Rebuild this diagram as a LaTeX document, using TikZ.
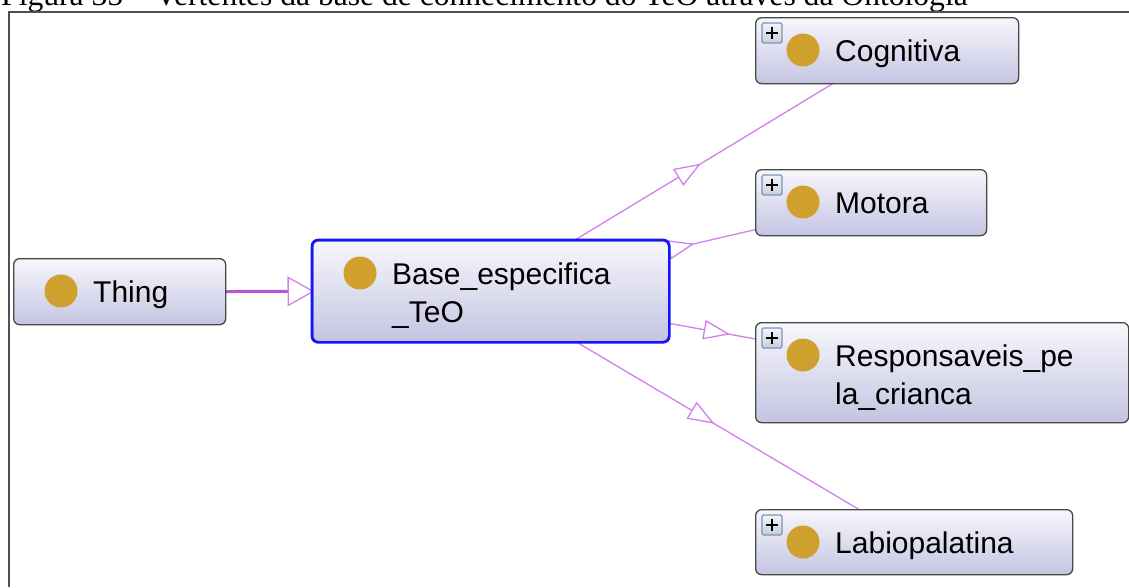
\documentclass[tikz,border=0pt]{standalone}
\usepackage{fontspec}
\setmainfont{Liberation Serif}
\newfontfamily\labelfont{Liberation Sans}
\usetikzlibrary{backgrounds,decorations.markings,calc}

\definecolor{boxtop}{RGB}{247,247,252}
\definecolor{boxbot}{RGB}{196,196,226}
\definecolor{boxborder}{RGB}{72,72,72}
\definecolor{selblue}{RGB}{20,20,255}
\definecolor{classdot}{RGB}{207,160,45}
\definecolor{isaline}{RGB}{208,128,238}
\definecolor{isathick}{RGB}{185,85,210}
\definecolor{framegray}{RGB}{80,80,80}
\definecolor{plusedge}{RGB}{120,150,185}
\definecolor{plustop}{RGB}{245,245,248}
\definecolor{plusbot}{RGB}{200,205,218}

\tikzset{
  clsbox/.style={rectangle, rounded corners=6pt, draw=boxborder, line width=1.3pt,
    top color=boxtop, bottom color=boxbot, inner sep=0pt, anchor=north west},
  dot/.style={circle, fill=classdot, minimum size=33pt, inner sep=0pt},
  lbl/.style={anchor=base west, inner sep=0pt,
    font=\labelfont\fontsize{30}{38}\selectfont, text=black},
  plusbox/.style={rectangle, draw=plusedge, line width=1.3pt, top color=plustop,
    bottom color=plusbot, minimum size=20pt, inner sep=0pt, rounded corners=1.5pt},
  plusmark/.style={line width=2.6pt, black},
  isa/.style={draw=isaline, line width=1.3pt},
  isahead/.style={isa, fill=white, line join=miter},
}

% one class box: name, x, y, width, height, first text line
\newcommand\owlclass[6]{%
  \node[clsbox, minimum width=#4pt, minimum height=#5pt] (#1) at (#2,#3) {};
  \node[dot] (#1-dot) at ($(#1.north west)+(48,33)$) {};
  \node[lbl] (#1-text) at ($(#1.north west)+(80,44)$) {#6};
}
% expand marker in the upper left corner of a box
\newcommand\expander[1]{%
  \node[plusbox] (#1-plus) at ($(#1.north west)+(17,16)$) {};
  \draw[plusmark] ([xshift=-6pt]#1-plus.center) -- ([xshift=6pt]#1-plus.center);
  \draw[plusmark] ([yshift=-6pt]#1-plus.center) -- ([yshift=6pt]#1-plus.center);
}

\begin{document}
\begin{tikzpicture}[x=1pt, y=-1pt]
\useasboundingbox (0,0) rectangle (1129,587);

% caption line and frame
\node[anchor=base west, inner sep=0pt, font=\fontsize{31.6}{31.6}\selectfont] (caption) at (1,5)
  {Figura 35 -- Vertentes da base de conhecimento do TeO através da Ontologia};
\draw[framegray, line width=2pt] (8.5,587) -- (8.5,11.5) -- (1129,11.5);

% classes
\owlclass{thing}{13}{258}{212}{66}{Thing}
\owlclass{base}{312}{240}{356}{101}{Base\_especifica}
\node[lbl] (base-text2) at ($(base-text.base west)+(0,38)$) {\_TeO};
\draw[selblue, line width=2.6pt, rounded corners=6pt] (base.north west) rectangle (base.south east);

\owlclass{cog}{755}{17}{263}{66}{Cognitiva}
\expander{cog}
\owlclass{mot}{755}{169}{231}{66}{Motora}
\expander{mot}
\owlclass{resp}{755}{322}{373}{100}{Responsaveis\_pe}
\node[lbl] (resp-text2) at ($(resp-text.base west)+(0,38)$) {la\_crianca};
\expander{resp}
\owlclass{lab}{755}{509}{317}{65}{Labiopalatina}
\expander{lab}

% subclass links, under the boxes
\begin{scope}[on background layer]
  \draw[isathick, line width=3pt, postaction={decorate},
    decoration={markings, mark=at position 0.5 with
      {\draw[isahead] (8pt,0pt) -- (-17pt,14pt) -- (-17pt,-14pt) -- cycle;}}]
    (thing.center) -- (base.center);
  \foreach \child in {cog, mot, resp, lab}{
    \draw[isa, postaction={decorate},
      decoration={markings, mark=at position 0.5 with
        {\draw[isahead] (12pt,0pt) -- (-12pt,9pt) -- (-12pt,-9pt) -- cycle;}}]
      (base.center) -- (\child.center);
  }
\end{scope}
\end{tikzpicture}
\end{document}
